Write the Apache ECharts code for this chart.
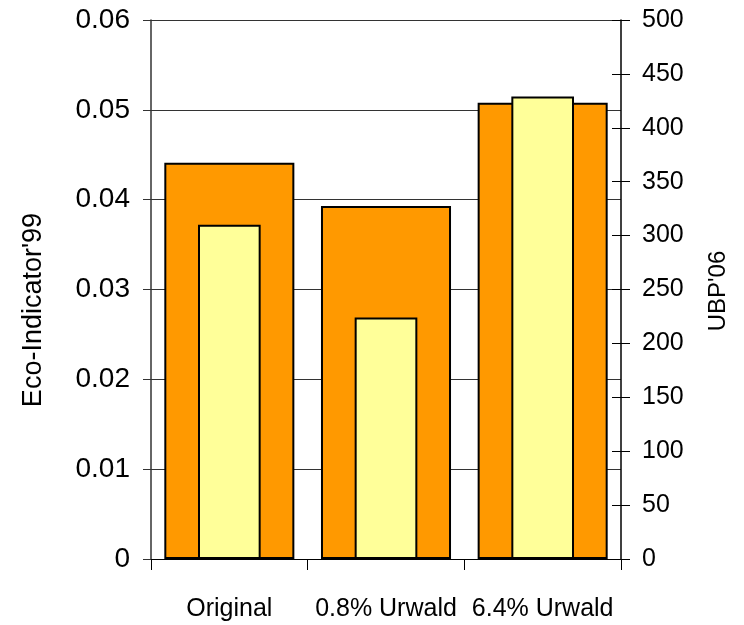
<!DOCTYPE html>
<html>
<head>
<meta charset="utf-8">
<script src="https://cdn.jsdelivr.net/npm/echarts@6/dist/echarts.min.js"></script>
<style>
  html, body { margin: 0; padding: 0; background: #fff; }
  #chart { width: 744px; height: 625px; }
</style>
</head>
<body>
<div id="chart"></div>
<script>
// Scenario categories
const categories = ['Original', '0.8% Urwald', '6.4% Urwald'];
// Eco-Indicator'99 scores (left axis)
const ecoIndicator99 = [0.0441, 0.0393, 0.0508];
// UBP'06 scores (right axis)
const ubp06 = [310, 224, 429];

const font = 'Arial, "Liberation Sans", sans-serif';

const chart = echarts.init(document.getElementById('chart'), null, { renderer: 'canvas' });

chart.setOption({
  animation: false,
  backgroundColor: '#ffffff',
  grid: { left: 151, right: 123, top: 20, bottom: 66 },
  xAxis: [
    {
      type: 'category',
      data: categories,
      axisLine: { lineStyle: { color: '#000', width: 1 } },
      axisTick: { show: true, length: 11, lineStyle: { color: '#000' } },
      axisLabel: {
        interval: 0, hideOverlap: false,
        margin: 38, color: '#000', fontSize: 25, fontFamily: font
      }
    },
    {
      type: 'category',
      data: categories,
      show: false
    }
  ],
  yAxis: [
    {
      type: 'value',
      position: 'left',
      min: 0, max: 0.06, interval: 0.01,
      axisLine: { show: true, lineStyle: { color: '#333', width: 1.5 } },
      axisTick: { show: true, length: 8, lineStyle: { color: '#333' } },
      splitLine: { show: true, lineStyle: { color: '#333', width: 1 } },
      axisLabel: { margin: 21, color: '#000', fontSize: 28, fontFamily: font }
    },
    {
      type: 'value',
      position: 'right',
      min: 0, max: 500, interval: 50,
      axisLine: { show: true, lineStyle: { color: '#000', width: 1.5 } },
      axisTick: { show: true, length: 9, lineStyle: { color: '#000' } },
      splitLine: { show: false },
      axisLabel: { margin: 21, color: '#000', fontSize: 25, fontFamily: font }
    },
    {
      // inner half of the crossing ticks on the right axis
      type: 'value',
      position: 'right',
      min: 0, max: 500, interval: 50,
      axisLine: { show: false },
      axisTick: { show: true, inside: true, length: 9, lineStyle: { color: '#000' } },
      splitLine: { show: false },
      axisLabel: { show: false }
    }
  ],
  series: [
    {
      name: "Eco-Indicator'99",
      type: 'bar',
      xAxisIndex: 0,
      yAxisIndex: 0,
      barWidth: '83%',
      data: ecoIndicator99,
      itemStyle: { color: '#FF9900', borderColor: '#000', borderWidth: 2 },
      z: 2
    },
    {
      name: "UBP'06",
      type: 'bar',
      xAxisIndex: 1,
      yAxisIndex: 1,
      barWidth: '40%',
      data: ubp06,
      itemStyle: { color: '#FFFF99', borderColor: '#000', borderWidth: 2 },
      z: 3
    }
  ],
  graphic: [
    {
      type: 'text',
      x: 34, y: 310,
      rotation: Math.PI / 2,
      style: {
        text: "Eco-Indicator'99",
        fontSize: 27, fontFamily: font, fill: '#000',
        textAlign: 'center', textVerticalAlign: 'middle'
      }
    },
    {
      type: 'text',
      x: 718, y: 291,
      rotation: Math.PI / 2,
      style: {
        text: "UBP'06",
        fontSize: 24, fontFamily: font, fill: '#000',
        textAlign: 'center', textVerticalAlign: 'middle'
      }
    }
  ]
});
</script>
</body>
</html>
